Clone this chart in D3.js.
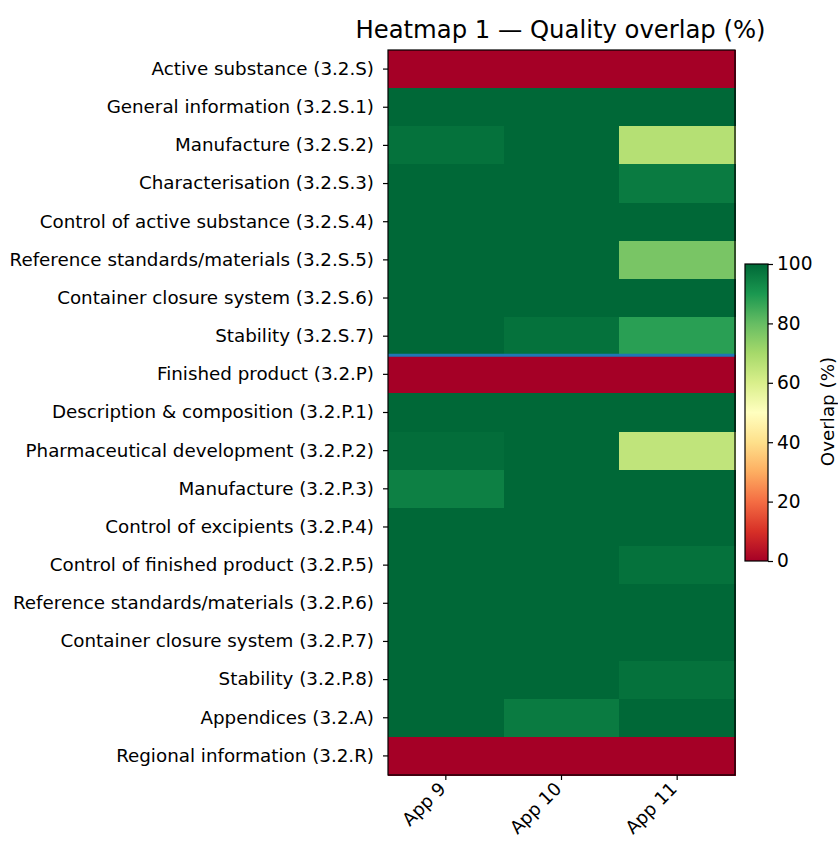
<!DOCTYPE html>
<html>
<head>
<meta charset="utf-8">
<script src="https://cdn.jsdelivr.net/npm/d3@7"></script>
<style>
  html, body { margin: 0; padding: 0; background: #fff; }
  svg { display: block; font-family: "DejaVu Sans", sans-serif; }
</style>
</head>
<body>
<svg id="chart" width="838" height="842"></svg>
<script>
// Sections of the quality module (rows) and applications (columns)
const sections = [
  "Active substance (3.2.S)",
  "General information (3.2.S.1)",
  "Manufacture (3.2.S.2)",
  "Characterisation (3.2.S.3)",
  "Control of active substance (3.2.S.4)",
  "Reference standards/materials (3.2.S.5)",
  "Container closure system (3.2.S.6)",
  "Stability (3.2.S.7)",
  "Finished product (3.2.P)",
  "Description & composition (3.2.P.1)",
  "Pharmaceutical development (3.2.P.2)",
  "Manufacture (3.2.P.3)",
  "Control of excipients (3.2.P.4)",
  "Control of finished product (3.2.P.5)",
  "Reference standards/materials (3.2.P.6)",
  "Container closure system (3.2.P.7)",
  "Stability (3.2.P.8)",
  "Appendices (3.2.A)",
  "Regional information (3.2.R)"
];
const apps = ["App 9", "App 10", "App 11"];

// Overlap (%) per section, one array per application
const app9  = [0, 100, 98, 100, 100, 100, 100, 100, 0, 100, 99, 95, 100, 100, 100, 100, 100, 100, 0];
const app10 = [0, 100, 100, 100, 100, 100, 100, 98, 0, 100, 100, 100, 100, 100, 100, 100, 100, 96, 0];
const app11 = [0, 100, 67, 96, 100, 77, 100, 88, 0, 100, 65, 100, 100, 98, 100, 100, 98, 100, 0];

const colorTicks = [0, 20, 40, 60, 80, 100];
// Divider drawn between the active-substance and finished-product blocks
const dividerAfter = "Stability (3.2.S.7)";

// Red-yellow-green diverging palette, piecewise linear between its 11 anchors
const rdYlGn = ["#a50026", "#d73027", "#f46d43", "#fdae61", "#fee08b", "#ffffbf",
                "#d9ef8b", "#a6d96a", "#66bd63", "#1a9850", "#006837"];

const cells = [];
[app9, app10, app11].forEach((vals, j) => {
  vals.forEach((v, i) => cells.push({ row: sections[i], col: apps[j], value: v }));
});

const svg = d3.select("#chart");
const plot = { left: 388, right: 735, top: 50, bottom: 775 };

const x = d3.scaleBand().domain(apps).range([plot.left, plot.right]);
const y = d3.scaleBand().domain(sections).range([plot.top, plot.bottom]);
const color = d3.scaleLinear()
  .domain(d3.range(rdYlGn.length).map(i => i * 100 / (rdYlGn.length - 1)))
  .range(rdYlGn)
  .interpolate(d3.interpolateRgb)
  .clamp(true);

// Heatmap cells
svg.append("g")
  .selectAll("rect")
  .data(cells)
  .join("rect")
  .attr("x", d => x(d.col))
  .attr("y", d => y(d.row))
  .attr("width", x.bandwidth() + 0.5)
  .attr("height", y.bandwidth() + 0.5)
  .attr("fill", d => color(d.value))
  .attr("shape-rendering", "crispEdges");

// Block divider
const yDiv = y(dividerAfter) + y.bandwidth();
svg.append("line")
  .attr("x1", plot.left).attr("x2", plot.right)
  .attr("y1", yDiv).attr("y2", yDiv)
  .attr("stroke", "#1f77b4").attr("stroke-width", 3);

// Frame
svg.append("rect")
  .attr("x", plot.left).attr("y", plot.top)
  .attr("width", plot.right - plot.left).attr("height", plot.bottom - plot.top)
  .attr("fill", "none").attr("stroke", "#000").attr("stroke-width", 1.2);

// Y axis
const yAxis = svg.append("g")
  .attr("transform", `translate(${plot.left},0)`)
  .call(d3.axisLeft(y).tickSize(5).tickPadding(9));
yAxis.select(".domain").remove();
yAxis.selectAll("text").attr("font-size", 18.3).attr("fill", "#000").attr("font-family", "DejaVu Sans");
yAxis.selectAll("line").attr("stroke", "#000").attr("stroke-width", 1.2);

// X axis with rotated labels
const xAxis = svg.append("g")
  .attr("transform", `translate(0,${plot.bottom})`)
  .call(d3.axisBottom(x).tickSize(5).tickPadding(4));
xAxis.select(".domain").remove();
xAxis.selectAll("line").attr("stroke", "#000").attr("stroke-width", 1.2);
xAxis.selectAll("text")
  .attr("font-size", 18).attr("fill", "#000").attr("font-family", "DejaVu Sans")
  .attr("text-anchor", "end")
  .attr("dy", null)
  .attr("y", 0)
  .attr("transform", "translate(1,15) rotate(-45)");

// Title
svg.append("text")
  .attr("x", (plot.left + plot.right) / 2 - 1)
  .attr("y", 38)
  .attr("text-anchor", "middle")
  .attr("font-size", 24.3)
  .attr("fill", "#000")
  .text("Heatmap 1 — Quality overlap (%)");

// Colorbar
const cb = { x: 745, w: 23, top: 264, bottom: 561 };
const defs = svg.append("defs");
const grad = defs.append("linearGradient")
  .attr("id", "cbgrad").attr("x1", 0).attr("x2", 0).attr("y1", 1).attr("y2", 0);
rdYlGn.forEach((c, i) => {
  grad.append("stop").attr("offset", i / (rdYlGn.length - 1)).attr("stop-color", c);
});
svg.append("rect")
  .attr("x", cb.x).attr("y", cb.top)
  .attr("width", cb.w).attr("height", cb.bottom - cb.top)
  .attr("fill", "url(#cbgrad)")
  .attr("stroke", "#000").attr("stroke-width", 1.2);

const cy = d3.scaleLinear().domain([0, 100]).range([cb.bottom, cb.top]);
const cAxis = svg.append("g")
  .attr("transform", `translate(${cb.x + cb.w},0)`)
  .call(d3.axisRight(cy).tickValues(colorTicks).tickSize(5).tickPadding(4));
cAxis.select(".domain").remove();
cAxis.selectAll("line").attr("stroke", "#000").attr("stroke-width", 1.2);
cAxis.selectAll("text").attr("font-size", 18.6).attr("fill", "#000").attr("font-family", "DejaVu Sans");

svg.append("text")
  .attr("transform", `translate(834,${(cb.top + cb.bottom) / 2 - 1}) rotate(-90)`)
  .attr("text-anchor", "middle")
  .attr("font-size", 18.3)
  .attr("fill", "#000")
  .text("Overlap (%)");
</script>
</body>
</html>
